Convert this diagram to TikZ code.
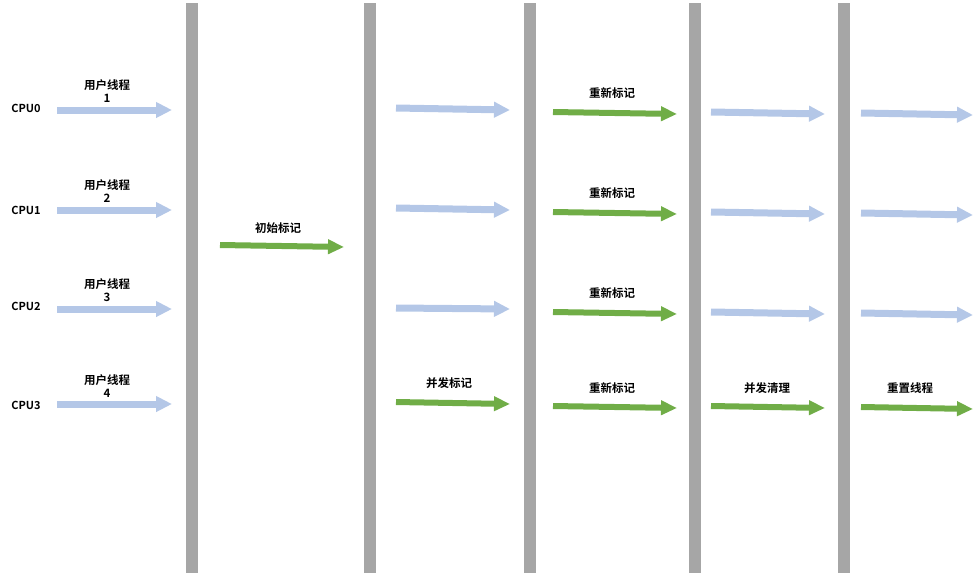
\documentclass[tikz,border=0pt]{standalone}
\usepackage{fontspec}
\setmainfont{Noto Sans CJK SC}[BoldFont={* Bold}]
\usetikzlibrary{positioning,arrows.meta}
\definecolor{barGray}{HTML}{A6A6A6}
\definecolor{userBlue}{HTML}{B4C7E7}
\definecolor{gcGreen}{HTML}{70AD47}
\tikzset{
  bar/.style={fill=barGray, draw=none},
  userarrow/.style={draw=userBlue, line width=7pt, -{Triangle[length=16pt,width=15pt]}},
  gcarrow/.style={draw=gcGreen, line width=6pt, -{Triangle[length=16pt,width=14pt]}},
  lbl/.style={font=\bfseries\fontsize{11.5}{14}\selectfont, inner sep=0pt, align=center},
  cpu/.style={font=\bfseries\fontsize{11}{13}\selectfont, inner sep=0pt}
}
\begin{document}
\begin{tikzpicture}[x=1pt,y=-1pt]
\useasboundingbox (0,0) rectangle (980,582);
% pause bars
\fill[bar] (186,3) rectangle (198,573);
\fill[bar] (364,3) rectangle (376,573);
\fill[bar] (524,3) rectangle (536,573);
\fill[bar] (689,3) rectangle (701,573);
\fill[bar] (838,3) rectangle (850,573);
% cpu rows
\node[cpu] (cpu0) at (26,108) {CPU0};
\node[cpu] (cpu1) at (26,210) {CPU1};
\node[cpu] (cpu2) at (26,306) {CPU2};
\node[cpu] (cpu3) at (26,405) {CPU3};
\node[lbl] (user0) at (107,91) {用户线程\\[-1pt]1};
\node[lbl] (user1) at (107,191) {用户线程\\[-1pt]2};
\node[lbl] (user2) at (107,290) {用户线程\\[-1pt]3};
\node[lbl] (user3) at (107,386) {用户线程\\[-1pt]4};
% phase labels
\node[lbl] (init) at (278,228) {初始标记};
\node[lbl] (remark0) at (612,93) {重新标记};
\node[lbl] (remark1) at (612,193) {重新标记};
\node[lbl] (remark2) at (612,293) {重新标记};
\node[lbl] (remark3) at (612,388) {重新标记};
\node[lbl] (concmark) at (449,383) {并发标记};
\node[lbl] (concsweep) at (767,388) {并发清理};
\node[lbl] (reset) at (910,388) {重置线程};
% arrow ends
\coordinate (a0s) at (57,110);  \coordinate (a0e) at (172,110);
\coordinate (a1s) at (57,210);  \coordinate (a1e) at (172,210);
\coordinate (a2s) at (57,309);  \coordinate (a2e) at (172,309);
\coordinate (a3s) at (57,404);  \coordinate (a3e) at (172,404);
\coordinate (is) at (220,245);  \coordinate (ie) at (344,247);
\coordinate (b0s) at (396,108); \coordinate (b0e) at (510,110);
\coordinate (b1s) at (396,208); \coordinate (b1e) at (510,210);
\coordinate (b2s) at (396,308); \coordinate (b2e) at (510,309);
\coordinate (b3s) at (396,402); \coordinate (b3e) at (510,404);
\coordinate (c0s) at (553,112); \coordinate (c0e) at (677,114);
\coordinate (c1s) at (553,212); \coordinate (c1e) at (677,214);
\coordinate (c2s) at (553,312); \coordinate (c2e) at (677,314);
\coordinate (c3s) at (553,406); \coordinate (c3e) at (677,408);
\coordinate (d0s) at (711,112); \coordinate (d0e) at (825,114);
\coordinate (d1s) at (711,212); \coordinate (d1e) at (825,214);
\coordinate (d2s) at (711,312); \coordinate (d2e) at (825,314);
\coordinate (d3s) at (711,406); \coordinate (d3e) at (825,408);
\coordinate (e0s) at (861,113); \coordinate (e0e) at (973,115);
\coordinate (e1s) at (861,213); \coordinate (e1e) at (973,215);
\coordinate (e2s) at (861,313); \coordinate (e2e) at (973,315);
\coordinate (e3s) at (861,407); \coordinate (e3e) at (973,409);
% arrows
\draw[userarrow] (a0s) -- (a0e);
\draw[userarrow] (a1s) -- (a1e);
\draw[userarrow] (a2s) -- (a2e);
\draw[userarrow] (a3s) -- (a3e);
\draw[gcarrow] (is) -- (ie);
\draw[userarrow] (b0s) -- (b0e);
\draw[userarrow] (b1s) -- (b1e);
\draw[userarrow] (b2s) -- (b2e);
\draw[gcarrow] (b3s) -- (b3e);
\draw[gcarrow] (c0s) -- (c0e);
\draw[gcarrow] (c1s) -- (c1e);
\draw[gcarrow] (c2s) -- (c2e);
\draw[gcarrow] (c3s) -- (c3e);
\draw[userarrow] (d0s) -- (d0e);
\draw[userarrow] (d1s) -- (d1e);
\draw[userarrow] (d2s) -- (d2e);
\draw[gcarrow] (d3s) -- (d3e);
\draw[userarrow] (e0s) -- (e0e);
\draw[userarrow] (e1s) -- (e1e);
\draw[userarrow] (e2s) -- (e2e);
\draw[gcarrow] (e3s) -- (e3e);
\end{tikzpicture}
\end{document}
